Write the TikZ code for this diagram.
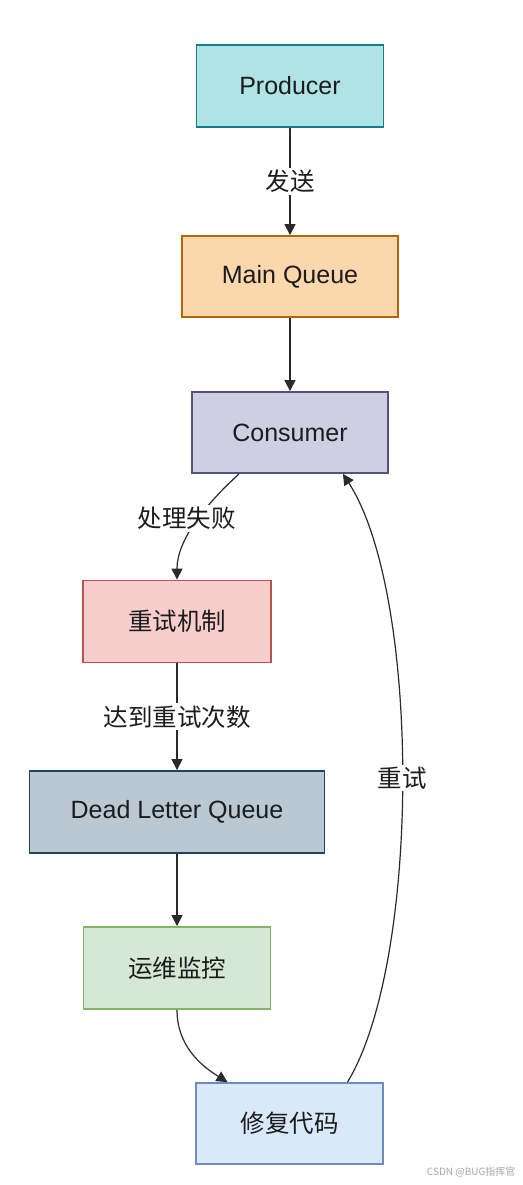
\documentclass[tikz,border=0pt]{standalone}
\usepackage{fontspec}
\setmainfont{Liberation Sans}
\newfontfamily\cjk{Noto Sans CJK SC}
\usetikzlibrary{arrows.meta}
\definecolor{prodF}{HTML}{B0E3E6}\definecolor{prodD}{HTML}{0E8088}
\definecolor{mqF}{HTML}{FAD7AC}\definecolor{mqD}{HTML}{B46504}
\definecolor{conF}{HTML}{D0CEE2}\definecolor{conD}{HTML}{56517E}
\definecolor{retF}{HTML}{F8CECC}\definecolor{retD}{HTML}{B85450}
\definecolor{dlqF}{HTML}{BAC8D3}\definecolor{dlqD}{HTML}{23445D}
\definecolor{opsF}{HTML}{D5E8D4}\definecolor{opsD}{HTML}{82B366}
\definecolor{fixF}{HTML}{DAE8FC}\definecolor{fixD}{HTML}{6C8EBF}
\definecolor{txt}{HTML}{1C1C1C}
\definecolor{edge}{HTML}{2A2A2A}
\tikzset{
  box/.style={draw, line width=1.8pt, rectangle, inner sep=0pt, text=txt,
    font=\fontsize{25}{30}\selectfont},
  cbox/.style={box, font=\fontsize{24.5}{30}\selectfont\cjk},
  conn/.style={draw=edge, line width=1.2pt, -{Triangle[width=11pt,length=11pt]}},
  lbl/.style={fill=white, inner sep=2pt, text=txt, font=\fontsize{24.5}{30}\selectfont\cjk}
}
\begin{document}
\begin{tikzpicture}[x=1pt,y=-1pt]
\useasboundingbox (0,0) rectangle (522,1185);
\node[box, fill=prodF, draw=prodD, minimum width=187pt, minimum height=82pt] (prod) at (290,86) {Producer};
\node[box, fill=mqF, draw=mqD, minimum width=216pt, minimum height=81pt] (mq) at (290,276.5) {Main Queue};
\node[box, fill=conF, draw=conD, minimum width=196pt, minimum height=81pt] (con) at (290,432.5) {Consumer};
\node[cbox, fill=retF, draw=retD, minimum width=188pt, minimum height=82pt] (ret) at (177,621.5) {重试机制};
\node[box, fill=dlqF, draw=dlqD, minimum width=295pt, minimum height=82pt] (dlq) at (177,812) {Dead Letter Queue};
\node[cbox, fill=opsF, draw=opsD, minimum width=187pt, minimum height=82pt] (ops) at (177,968) {运维监控};
\node[cbox, fill=fixF, draw=fixD, minimum width=187pt, minimum height=81pt] (fix) at (289.5,1123.5) {修复代码};

\draw[conn] (prod.south) -- node[lbl] {发送} (mq.north);
\draw[conn] (mq.south) -- (con.north);
\draw[conn] ([xshift=-51pt]con.south) .. controls (205,505) and (177,540) .. node[lbl, pos=0.45, xshift=-12pt] {处理失败} (ret.north);
\draw[conn] (ret.south) -- node[lbl] {达到重试次数} (dlq.north);
\draw[conn] (dlq.south) -- (ops.north);
\draw[conn] (ops.south) .. controls (177,1045) and (200,1065) .. ([xshift=-62pt]fix.north);
\draw[conn] ([xshift=58pt]fix.north) .. controls (421,961) and (421,595) .. node[lbl, pos=0.5] {重试} ([xshift=53pt]con.south);

\node[text=black!35, font=\fontsize{10}{12}\selectfont\cjk, anchor=east] (wm) at (519,1172) {CSDN @BUG指挥官};
\end{tikzpicture}
\end{document}
